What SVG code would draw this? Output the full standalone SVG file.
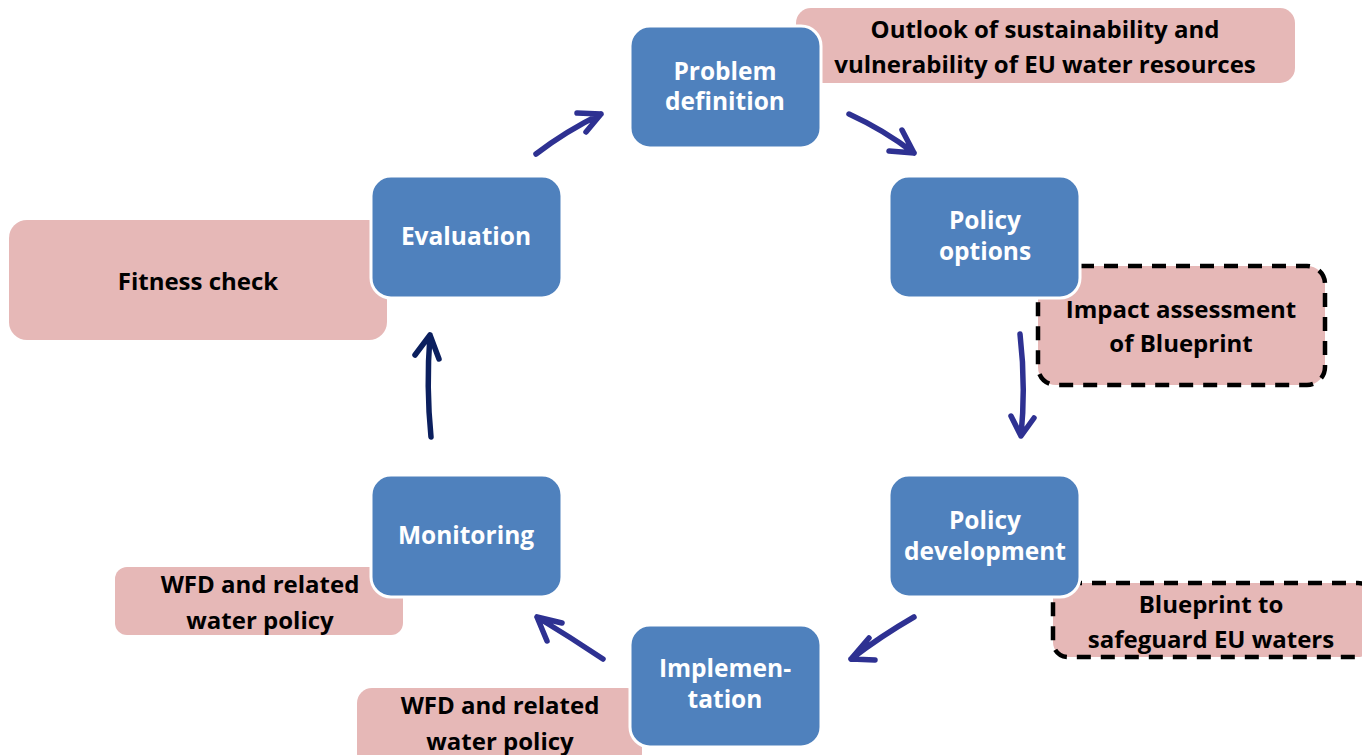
<svg xmlns="http://www.w3.org/2000/svg" width="1362" height="755" viewBox="0 0 1362 755">
<style>
.blue{fill:#4F81BD;stroke:#fff;stroke-width:3}
.pink{fill:#E6B8B7}
.dash{stroke:#000;stroke-width:4.5;stroke-dasharray:14 10}
.bt{font-family:"Open Sans","Liberation Sans",sans-serif;font-weight:bold;font-size:24.5px;fill:#fff;text-anchor:middle}
.pt{font-family:"Open Sans","Liberation Sans",sans-serif;font-weight:bold;font-size:24px;fill:#000;text-anchor:middle}
.arr{fill:none;stroke:#2E3192;stroke-width:5.5;stroke-linecap:round;stroke-linejoin:round}
.arr2{fill:none;stroke:#0B1F5E;stroke-width:5.5;stroke-linecap:round;stroke-linejoin:round}
</style>
<rect width="1362" height="755" fill="#fff"/>
<g id="note-outlook"><rect class="pink" x="796" y="8" width="499" height="75" rx="15"/>
<text class="pt"><tspan x="1045" y="38">Outlook of sustainability and</tspan><tspan x="1045" y="73">vulnerability of EU water resources</tspan></text></g>
<g id="note-impact"><rect class="pink dash" x="1038" y="266" width="287" height="119" rx="18"/>
<text class="pt"><tspan x="1181" y="318">Impact assessment</tspan><tspan x="1181" y="352">of Blueprint</tspan></text></g>
<g id="note-blueprint"><rect class="pink dash" x="1053" y="583" width="320" height="74" rx="15"/>
<text class="pt"><tspan x="1211" y="613">Blueprint to</tspan><tspan x="1211" y="648">safeguard EU waters</tspan></text></g>
<g id="note-wfd2"><rect class="pink" x="357" y="688" width="285" height="80" rx="15"/>
<text class="pt"><tspan x="500" y="714">WFD and related</tspan><tspan x="500" y="750">water policy</tspan></text></g>
<g id="note-wfd1"><rect class="pink" x="115" y="567" width="288" height="68" rx="12"/>
<text class="pt"><tspan x="260" y="593">WFD and related</tspan><tspan x="260" y="629">water policy</tspan></text></g>
<g id="note-fitness"><rect class="pink" x="9" y="220" width="378" height="120" rx="18"/>
<text class="pt" x="198" y="290">Fitness check</text></g>

<g id="problem"><rect class="blue" x="630" y="26" width="191" height="122" rx="20"/>
<text class="bt"><tspan x="725" y="80">Problem</tspan><tspan x="725" y="110">definition</tspan></text></g>
<g id="options"><rect class="blue" x="889" y="176" width="191" height="122" rx="20"/>
<text class="bt"><tspan x="985" y="229">Policy</tspan><tspan x="985" y="260">options</tspan></text></g>
<g id="development"><rect class="blue" x="889" y="475" width="191" height="122" rx="20"/>
<text class="bt"><tspan x="985" y="529">Policy</tspan><tspan x="985" y="560">development</tspan></text></g>
<g id="implementation"><rect class="blue" x="630" y="625" width="191" height="122" rx="20"/>
<text class="bt"><tspan x="725" y="677">Implemen-</tspan><tspan x="725" y="708">tation</tspan></text></g>
<g id="monitoring"><rect class="blue" x="371" y="475" width="191" height="122" rx="20"/>
<text class="bt" x="466" y="544">Monitoring</text></g>
<g id="evaluation"><rect class="blue" x="371" y="176" width="191" height="122" rx="20"/>
<text class="bt" x="466" y="245">Evaluation</text></g>

<g id="connectors">
<path class="arr" d="M536,154 Q566,131 601,114 M577,113 L601,114 L586,132"/>
<path class="arr" d="M849,114 Q884,130 914,153 M902,130 L914,153 L889,151"/>
<path class="arr" d="M1020,334 Q1026,385 1021,436 M1011,416 L1021,436 L1034,418"/>
<path class="arr" d="M914,617 Q881,636 851,659 M869,638 L851,659 L875,660"/>
<path class="arr" d="M603,659 Q570,637 537,617 M562,623 L537,617 L547,641"/>
<path class="arr2" d="M431,437 Q426,387 430,335 M415,355 L430,335 L439,359"/>
</g>
</svg>
